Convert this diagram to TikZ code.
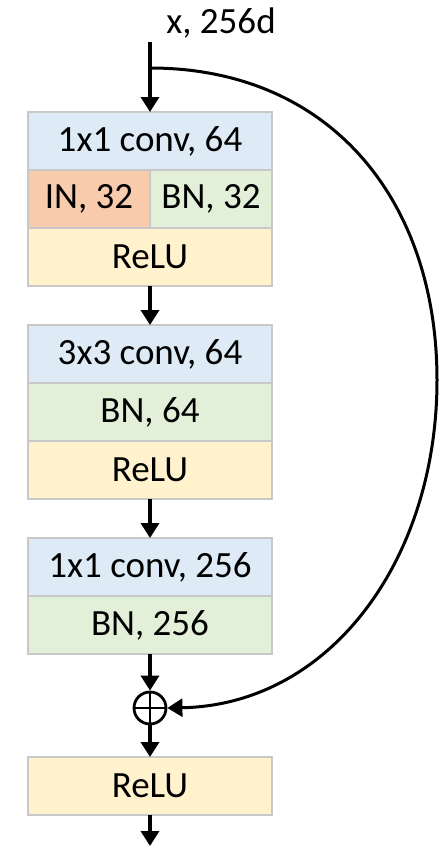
\documentclass[tikz,border=0pt]{standalone}
\usepackage{fontspec}
\setmainfont{Carlito}
\usetikzlibrary{arrows.meta}
\definecolor{convblue}{HTML}{DEEBF7}
\definecolor{inorange}{HTML}{F8CBAD}
\definecolor{bngreen}{HTML}{E2F0D9}
\definecolor{reluyellow}{HTML}{FFF2CC}
\definecolor{boxgray}{HTML}{C8C8C8}
\tikzset{
  layer/.style={draw=boxgray, line width=2.5pt, minimum width=244pt, minimum height=58pt,
    inner sep=0pt, outer sep=0pt, font=\fontsize{37}{42}\selectfont, text=black},
  half/.style={layer, minimum width=122pt},
  conv/.style={layer, fill=convblue},
  bn/.style={layer, fill=bngreen},
  relu/.style={layer, fill=reluyellow},
  flow/.style={line width=3.5pt, -{Triangle[length=15pt,width=18pt]}},
  skip/.style={line width=3pt, -{Triangle[length=15pt,width=18pt]}},
  addop/.style={circle, draw, line width=2.8pt, minimum size=32pt, inner sep=0pt,
    path picture={\draw[line width=2.8pt] (path picture bounding box.north) -- (path picture bounding box.south)
      (path picture bounding box.west) -- (path picture bounding box.east);}},
  lbl/.style={font=\fontsize{37}{42}\selectfont, text=black}
}
\begin{document}
\begin{tikzpicture}[x=1pt, y=-1pt]
\useasboundingbox (0,0) rectangle (439,846);
\node[lbl] (xin) at (221,23) {x, 256d};
\coordinate (top) at (150,42);
\coordinate (split) at (150,68);
% block 1
\node[conv] (c1) at (150,141) {1x1 conv, 64};
\node[half, fill=inorange, anchor=north west] (in1) at (28,170) {IN, 32};
\node[half, fill=bngreen, anchor=north east] (bn1) at (272,170) {BN, 32};
\node[relu] (r1) at (150,257) {ReLU};
% block 2
\node[conv] (c2) at (150,354) {3x3 conv, 64};
\node[bn] (b2) at (150,412) {BN, 64};
\node[relu] (r2) at (150,470) {ReLU};
% block 3
\node[conv] (c3) at (150,567) {1x1 conv, 256};
\node[bn] (b3) at (150,625) {BN, 256};
% add
\node[addop] (add) at (150,708) {};
\node[relu] (r3) at (150,786) {ReLU};
\coordinate (out) at (150,846);
% connectors
\draw[flow] (top) -- (c1.north);
\draw[flow] (r1.south) -- (c2.north);
\draw[flow] (r2.south) -- (c3.north);
\draw[flow] (b3.south) -- (add.north);
\draw[flow] (add.south) -- (r3.north);
\draw[flow] (r3.south) -- (out);
\draw[skip] (split) .. controls (330,68) and (437,200) .. (437,380)
  .. controls (437,560) and (330,705) .. (add.east);
\end{tikzpicture}
\end{document}
